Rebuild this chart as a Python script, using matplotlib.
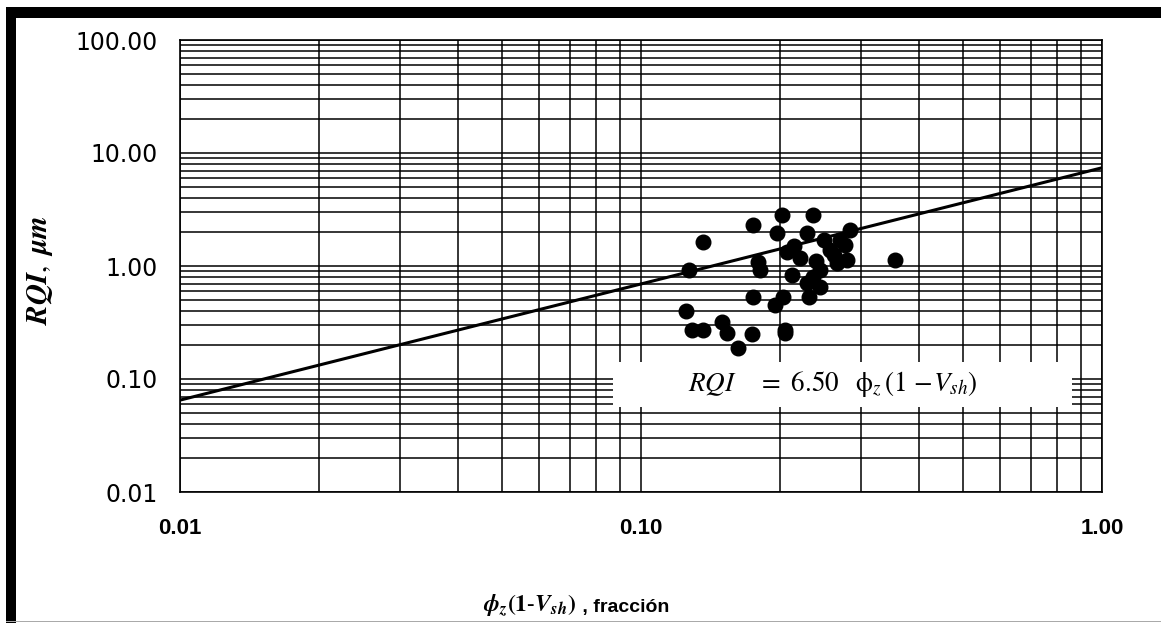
import matplotlib
matplotlib.use("Agg")
import matplotlib.pyplot as plt
from matplotlib.patches import Rectangle
from matplotlib.ticker import FixedLocator, LogLocator, NullFormatter

# ---- data ----
x_pts = [0.175, 0.136, 0.127, 0.179, 0.181, 0.175, 0.125, 0.150, 0.129, 0.136,
         0.154, 0.174, 0.162, 0.236, 0.202, 0.197, 0.229, 0.284, 0.207, 0.257,
         0.280, 0.356, 0.213, 0.236, 0.232, 0.203, 0.195, 0.205, 0.205, 0.245,
         0.266, 0.221, 0.245, 0.229, 0.270, 0.215, 0.250, 0.277, 0.240, 0.262]
y_pts = [2.31, 1.63, 0.92, 1.09, 0.92, 0.53, 0.40, 0.32, 0.27, 0.27,
         0.255, 0.25, 0.19, 2.83, 2.83, 1.96, 1.96, 2.08, 1.33, 1.39,
         1.13, 1.13, 0.83, 0.80, 0.53, 0.53, 0.45, 0.27, 0.255, 0.92,
         1.06, 1.18, 0.65, 0.71, 1.70, 1.50, 1.70, 1.53, 1.10, 1.25]
fit_x = [0.01, 1.0]
fit_y = [0.065, 7.4]
x_ticks = [0.01, 0.10, 1.00]
x_ticklabels = ["0.01", "0.10", "1.00"]
y_ticks = [0.01, 0.10, 1.00, 10.0, 100.0]
y_ticklabels = ["0.01", "0.10", "1.00", "10.00", "100.00"]

W, H = 1161, 623
fig = plt.figure(figsize=(W / 100, H / 100), dpi=100)
fig.patch.set_facecolor("white")
plt.rcParams["mathtext.fontset"] = "stix"

L, R, T, B = 180, 1102, 40, 492
ax = fig.add_axes([L / W, 1 - B / H, (R - L) / W, (B - T) / H])
ax.set_xscale("log")
ax.set_yscale("log")
ax.set_xlim(0.01, 1.0)
ax.set_ylim(0.01, 100.0)

ax.xaxis.set_major_locator(FixedLocator(x_ticks))
ax.yaxis.set_major_locator(FixedLocator(y_ticks))
ax.xaxis.set_minor_locator(LogLocator(base=10, subs=range(2, 10)))
ax.yaxis.set_minor_locator(LogLocator(base=10, subs=range(2, 10)))
ax.xaxis.set_minor_formatter(NullFormatter())
ax.yaxis.set_minor_formatter(NullFormatter())
ax.set_xticklabels(x_ticklabels, fontsize=16, family=["Liberation Sans"], fontweight="bold")
ax.set_yticklabels(y_ticklabels, fontsize=17, family=["DejaVu Sans"])
ax.tick_params(which="both", length=0)
ax.tick_params(axis="x", pad=19)
ax.tick_params(axis="y", pad=16)

ax.grid(True, which="major", color="black", lw=1.1)
ax.grid(True, which="minor", color="black", lw=1.1)
ax.set_axisbelow(True)
for s in ax.spines.values():
    s.set_color("black")
    s.set_linewidth(1.2)

# fit line
ax.plot(fit_x, fit_y, color="black", lw=2.2, zorder=3, solid_capstyle="butt")

# equation box (white, hiding grid)
ax.add_patch(Rectangle((613 / W, 1 - 407 / H), (1072 - 613) / W, (407 - 362) / H,
                       transform=fig.transFigure, facecolor="white", edgecolor="none",
                       zorder=4, clip_on=False))
eq_y = 1 - 391 / H
fig.text(688 / W, eq_y, r"$RQI$", fontsize=19.5, ha="left", va="baseline", zorder=5)
fig.text(758 / W, eq_y, r"$=\ \mathrm{6.50}$", fontsize=19.5, ha="left", va="baseline", zorder=5)
fig.text(855 / W, eq_y, r"$\mathrm{\phi}_z\,(1\ \!-\!V_{sh})$", fontsize=19.5, ha="left",
         va="baseline", zorder=5)

# data points
ax.plot(x_pts, y_pts, "o", color="black", ms=10.5, zorder=6, clip_on=False)

# axis labels
fig.text(40 / W, 1 - 270 / H, r"$\mathbfit{RQI},\ \mathbfit{\mu m}$", rotation=90,
         fontsize=21, ha="center", va="center")
fig.text(576 / W, 1 - 612 / H, r"$\mathbfit{\phi}_{\mathbfit{z}}\mathbf{(1\text{-}}\mathbfit{V}_{\mathbfit{sh}}\mathbf{)}$",
         fontsize=17, ha="right", va="baseline")
fig.text(577 / W, 1 - 612 / H, " , fracción", fontsize=14,
         family=["Liberation Sans"], fontweight="bold",
         ha="left", va="baseline")

# frame around the figure
fig.add_artist(Rectangle((6 / W, 0), 10 / W, 1 - 7 / H, transform=fig.transFigure,
                         facecolor="black", edgecolor="none"))
fig.add_artist(Rectangle((6 / W, 1 - 18 / H), 1, 11 / H, transform=fig.transFigure,
                         facecolor="black", edgecolor="none"))
fig.add_artist(Rectangle((6 / W, 1 / H), 1, 1 / H, transform=fig.transFigure,
                         facecolor="#aaaaaa", edgecolor="none"))

fig.savefig("out.png", dpi=100, facecolor="white")
